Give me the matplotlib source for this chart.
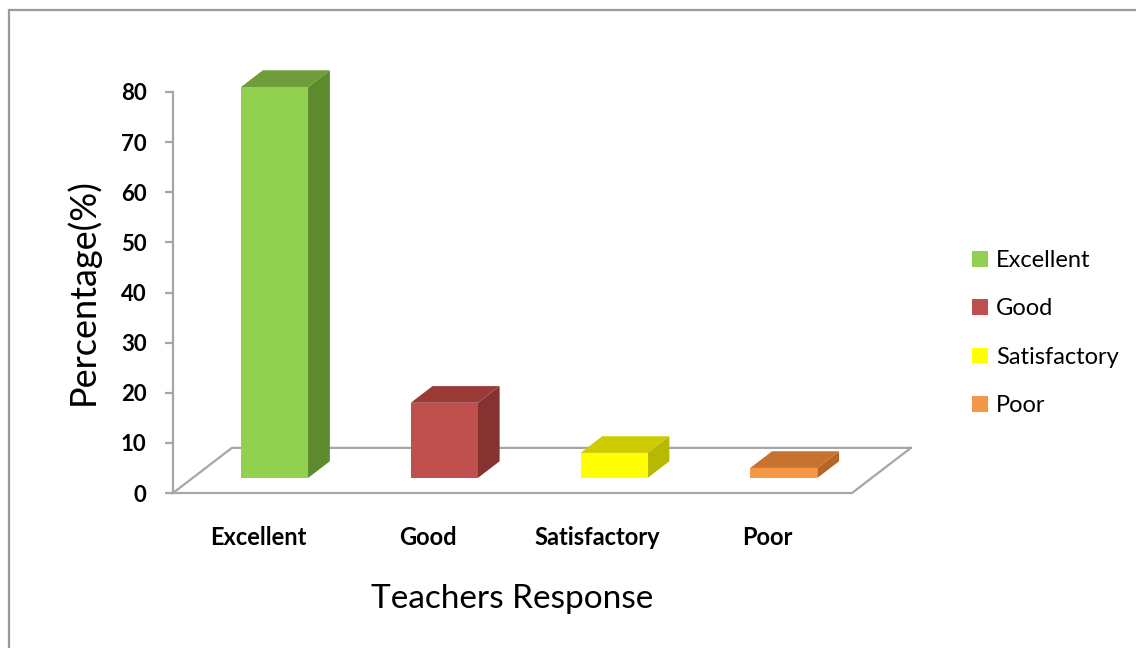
import matplotlib

matplotlib.use("Agg")
import matplotlib.pyplot as plt
from matplotlib.patches import Patch, Polygon, Rectangle

# data
categories = ["Excellent", "Good", "Satisfactory", "Poor"]
percentages = [78, 15, 5, 2]
y_ticks = [0, 10, 20, 30, 40, 50, 60, 70, 80]

front_colors = ["#92D050", "#C0504D", "#FFFF00", "#F79646"]
top_colors = ["#6F9D39", "#9A3B38", "#CCCC00", "#C8722F"]
side_colors = ["#5E8A2E", "#863230", "#B8B800", "#B4652A"]

# oblique "3d" projection settings (category units / value units)
DEPTH_DX = 0.347
DEPTH_DY = 9.0
BAR_FRONT = 1 / 3
BAR_DEPTH = 0.37
BAR_LEFT = 0.285
BAR_WIDTH = 0.395
FLOOR_COLOR = "#A6A6A6"

plt.rcParams["font.family"] = ["Lato", "DejaVu Sans"]

W, H = 1136, 648
fig = plt.figure(figsize=(W / 100, H / 100), dpi=100)

# axes laid out so that x=0..4 maps to px 173..852 and y=0..80 to px 493..92
px_per_cat = (852 - 173) / 4
px_per_val = (493 - 92) / 80
x_max, y_max = 5.0, 85.0
ax_w_px, ax_h_px = x_max * px_per_cat, y_max * px_per_val
ax = fig.add_axes([173 / W, (H - 493) / H, ax_w_px / W, ax_h_px / H])
ax.set_xlim(0, x_max)
ax.set_ylim(0, y_max)

# outer frame of the chart area
fig.patches.append(Rectangle((9 / W, -0.05), 1.2, (H - 10) / H + 0.05, transform=fig.transFigure,
                             fill=False, edgecolor="#9A9A9A", linewidth=1.6))

# floor
n = len(categories)
floor_kw = dict(color=FLOOR_COLOR, linewidth=1.6, clip_on=False, zorder=1)
ax.plot([0, n, n + DEPTH_DX], [0, 0, DEPTH_DY], **floor_kw)
ax.plot([0, DEPTH_DX, n + DEPTH_DX], [0, DEPTH_DY, DEPTH_DY], **floor_kw)

for i, v in enumerate(percentages):
    x0 = i + BAR_LEFT + BAR_FRONT * DEPTH_DX
    x1 = x0 + BAR_WIDTH
    y0 = BAR_FRONT * DEPTH_DY
    sx, sy = BAR_DEPTH * DEPTH_DX, BAR_DEPTH * DEPTH_DY
    front = [(x0, y0), (x1, y0), (x1, y0 + v), (x0, y0 + v)]
    top = [(x0, y0 + v), (x1, y0 + v), (x1 + sx, y0 + v + sy), (x0 + sx, y0 + v + sy)]
    side = [(x1, y0), (x1 + sx, y0 + sy), (x1 + sx, y0 + v + sy), (x1, y0 + v)]
    ax.add_patch(Polygon(side, closed=True, facecolor=side_colors[i], edgecolor="none", zorder=3))
    ax.add_patch(Polygon(top, closed=True, facecolor=top_colors[i], edgecolor="none", zorder=3))
    ax.add_patch(Polygon(front, closed=True, facecolor=front_colors[i], edgecolor="none", zorder=4))

for s in ["top", "right", "bottom"]:
    ax.spines[s].set_visible(False)
ax.spines["left"].set_bounds(0, 80)
ax.spines["left"].set_color(FLOOR_COLOR)
ax.spines["left"].set_linewidth(1.6)
ax.set_yticks(y_ticks)
ax.tick_params(axis="y", length=6, width=1.6, color=FLOOR_COLOR, labelsize=16, pad=13)
for lbl in ax.get_yticklabels():
    lbl.set_fontweight("bold")

ax.set_xticks([i + 0.5 for i in range(n)])
ax.set_xticklabels(categories, fontsize=17, fontweight="bold")
ax.tick_params(axis="x", length=0, pad=24)

ax.set_ylabel("Percentage(%)", fontsize=26)
ax.yaxis.set_label_coords((100 - 173) / ax_w_px, (493 - 292) / ax_h_px)
ax.set_xlabel("Teachers Response", fontsize=24)
ax.xaxis.set_label_coords((512 - 173) / ax_w_px, (493 - 584) / ax_h_px)

handles = [Patch(facecolor=c, edgecolor="none") for c in front_colors]
fig.legend(handles, categories, loc="center left", bbox_to_anchor=(951 / W, 1 - 333 / H),
           frameon=False, fontsize=17, labelspacing=1.16, handlelength=0.65, handleheight=0.65,
           handletextpad=0.35)

ax.patch.set_alpha(0)
fig.savefig("out.png", dpi=100)
